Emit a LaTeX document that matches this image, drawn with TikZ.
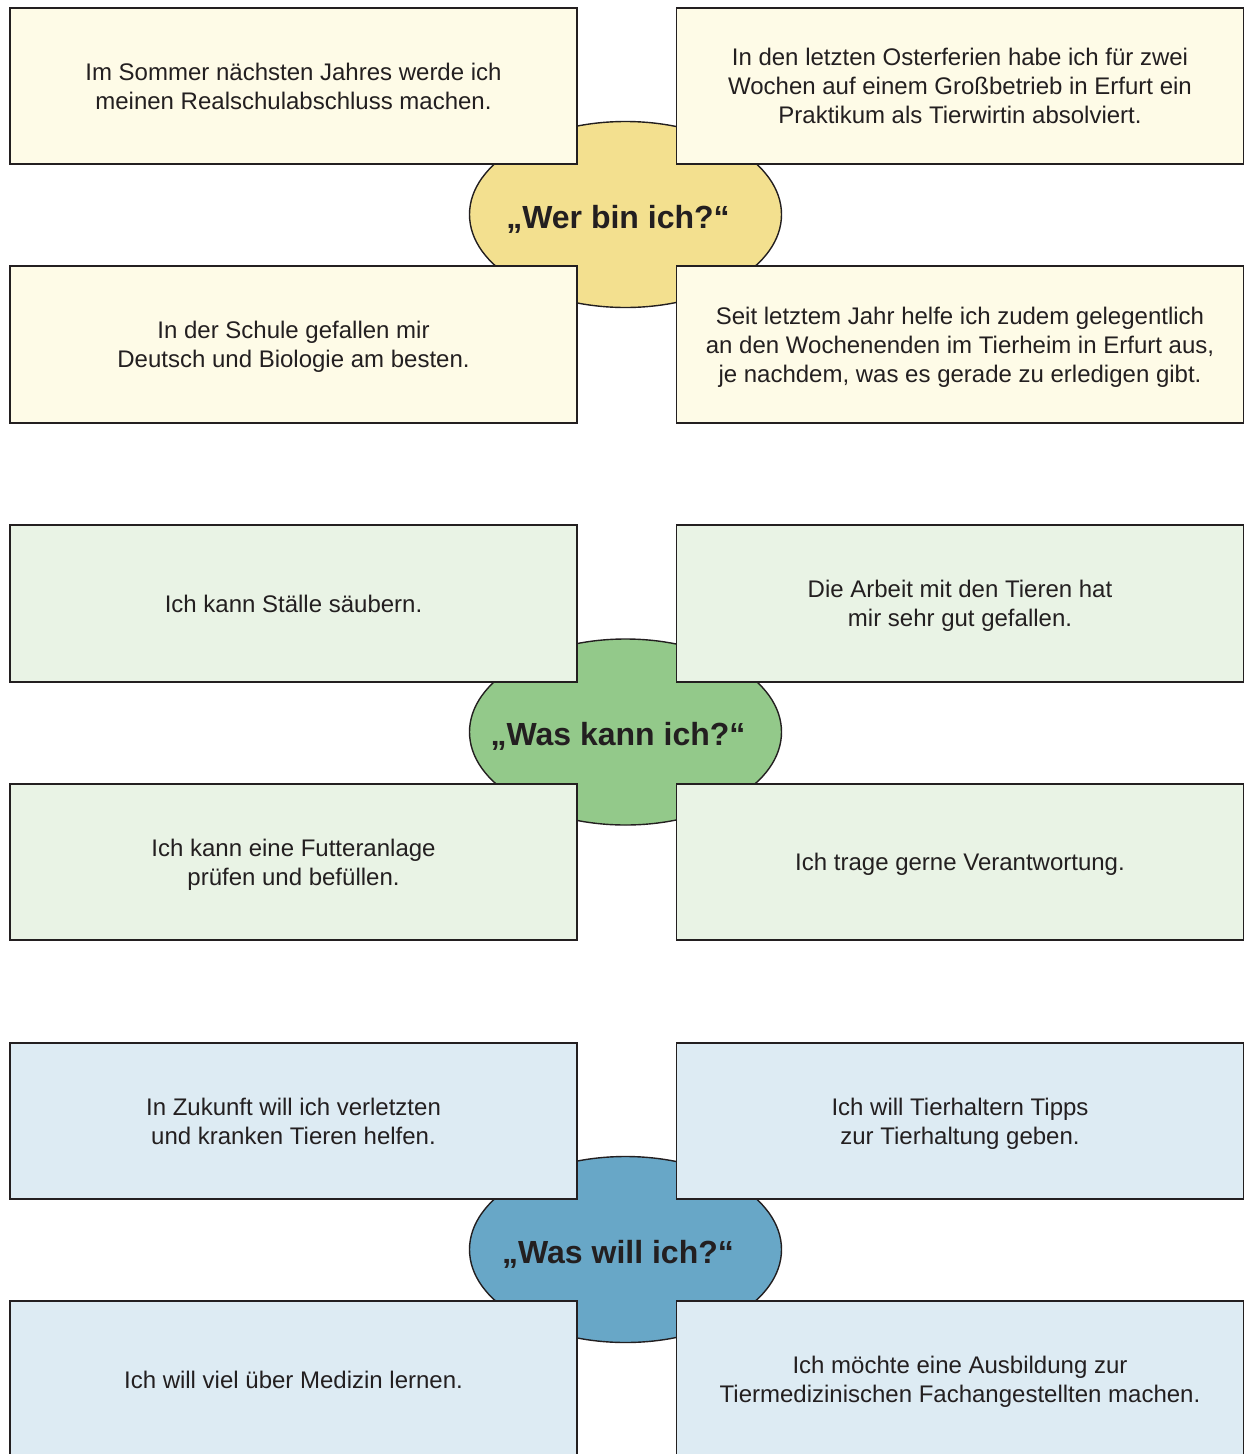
\documentclass[tikz,border=0pt]{standalone}
\usepackage{fontspec}
\setmainfont{Liberation Sans}
\usetikzlibrary{shapes.geometric}
\definecolor{ink}{HTML}{231F20}
\definecolor{yboxc}{HTML}{FEFBE7}
\definecolor{yellc}{HTML}{F3E08F}
\definecolor{gboxc}{HTML}{E9F3E5}
\definecolor{gellc}{HTML}{93C98A}
\definecolor{bboxc}{HTML}{DDEBF3}
\definecolor{bellc}{HTML}{68A7C7}
\newcommand\tst{\rule{0pt}{23.1pt}}
\newcommand\bst{\rule[-5.9pt]{0pt}{5.9pt}}
\tikzset{
  card/.style={draw=ink, line width=1.6pt, rectangle, minimum width=567pt, minimum height=156.5pt, inner sep=0pt, align=center, text=ink, font=\fontsize{24}{29}\selectfont},
  hub/.style={draw=ink, line width=1.4pt, ellipse, minimum width=312pt, minimum height=186pt, inner sep=0pt},
  hubtitle/.style={inner sep=0pt, text=ink, font=\fontsize{32}{34}\selectfont\bfseries,
    execute at begin node={\rule{0pt}{30pt}}, execute at end node={\rule[-7pt]{0pt}{7pt}}},
}
\begin{document}
\begin{tikzpicture}[x=1pt,y=-1pt]
\useasboundingbox (0,0) rectangle (1244,1454);
\clip (0,0) rectangle (1244,1454);
% group 1
\begin{scope}[yshift=0pt]
\node[hub, fill=yellc] (h1) at (625.5,214.5) {};
\node[hubtitle] (t1) at (618,216.5) {„Wer bin ich?“};
\node[card, fill=yboxc] (a1) at (293.5,86) {\tst Im Sommer nächsten Jahres werde ich\\meinen Realschulabschluss machen.\bst};
\node[card, fill=yboxc] (b1) at (960,86) {\tst In den letzten Osterferien habe ich für zwei\\Wochen auf einem Großbetrieb in Erfurt ein\\Praktikum als Tierwirtin absolviert.\bst};
\node[card, fill=yboxc] (c1) at (293.5,344.5) {\tst In der Schule gefallen mir\\Deutsch und Biologie am besten.\bst};
\node[card, fill=yboxc] (d1) at (960,344.5) {\tst Seit letztem Jahr helfe ich zudem gelegentlich\\an den Wochenenden im Tierheim in Erfurt aus,\\je nachdem, was es gerade zu erledigen gibt.\bst};
\end{scope}
% group 2
\begin{scope}[yshift=-517.5pt]
\node[hub, fill=gellc] (h2) at (625.5,214.5) {};
\node[hubtitle] (t2) at (618,216.5) {„Was kann ich?“};
\node[card, fill=gboxc] (a2) at (293.5,86) {\tst Ich kann Ställe säubern.\bst};
\node[card, fill=gboxc] (b2) at (960,86) {\tst Die Arbeit mit den Tieren hat\\mir sehr gut gefallen.\bst};
\node[card, fill=gboxc] (c2) at (293.5,344.5) {\tst Ich kann eine Futteranlage\\prüfen und befüllen.\bst};
\node[card, fill=gboxc] (d2) at (960,344.5) {\tst Ich trage gerne Verantwortung.\bst};
\end{scope}
% group 3
\begin{scope}[yshift=-1035pt]
\node[hub, fill=bellc] (h3) at (625.5,214.5) {};
\node[hubtitle] (t3) at (618,216.5) {„Was will ich?“};
\node[card, fill=bboxc] (a3) at (293.5,86) {\tst In Zukunft will ich verletzten\\und kranken Tieren helfen.\bst};
\node[card, fill=bboxc] (b3) at (960,86) {\tst Ich will Tierhaltern Tipps\\zur Tierhaltung geben.\bst};
\node[card, fill=bboxc] (c3) at (293.5,344.5) {\tst Ich will viel über Medizin lernen.\bst};
\node[card, fill=bboxc] (d3) at (960,344.5) {\tst Ich möchte eine Ausbildung zur\\Tiermedizinischen Fachangestellten machen.\bst};
\end{scope}
\end{tikzpicture}
\end{document}
